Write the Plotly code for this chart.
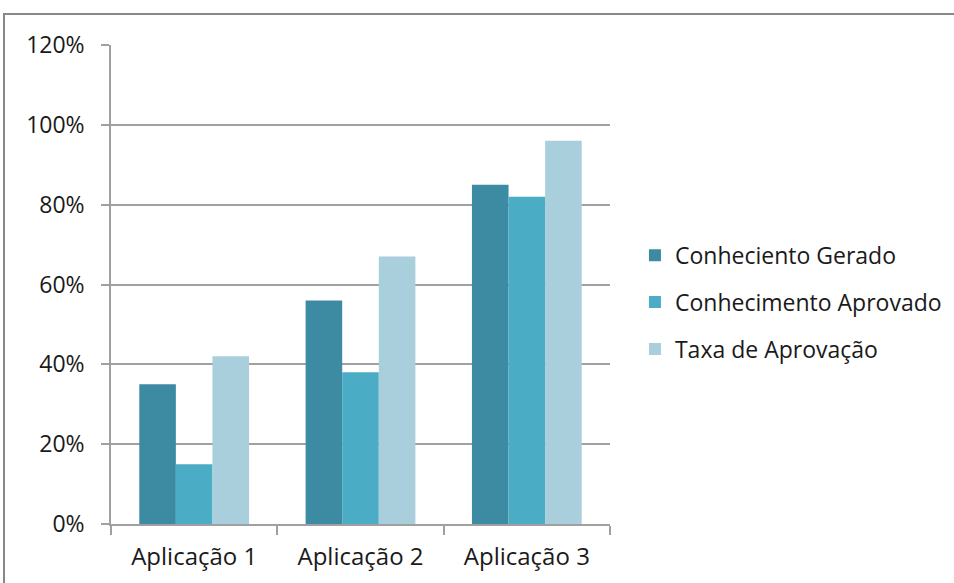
import plotly.graph_objects as go

categories = ["Aplicação 1", "Aplicação 2", "Aplicação 3"]
series_names = ["Conheciento Gerado", "Conhecimento Aprovado", "Taxa de Aprovação"]
conhecimento_gerado = [0.35, 0.56, 0.85]
conhecimento_aprovado = [0.15, 0.38, 0.82]
taxa_aprovacao = [0.42, 0.67, 0.96]
y_tick_values = [0, 0.2, 0.4, 0.6, 0.8, 1.0, 1.2]

colors = ["#3C8BA3", "#4BACC6", "#A9CEDC"]
series_values = [conhecimento_gerado, conhecimento_aprovado, taxa_aprovacao]

FONT = "Open Sans"
GRAY = "#A0A0A0"
TEXT = "#1a1a1a"

fig = go.Figure()
for i, (name, vals) in enumerate(zip(series_names, series_values)):
    fig.add_trace(go.Bar(
        x=categories, y=vals, name=name,
        marker=dict(color=colors[i], line=dict(width=0)),
        legendgroup=f"g{i}",
        hoverinfo="skip",
    ))

fig.update_layout(
    width=954, height=583,
    margin=dict(l=111, r=344, t=45, b=59, autoexpand=False),
    paper_bgcolor="white", plot_bgcolor="white",
    barmode="group", bargap=0.34, bargroupgap=0,
    font=dict(family=FONT, size=23, color=TEXT),
    showlegend=True,
    legend=dict(
        x=1.05, y=0.463, xanchor="left", yanchor="middle",
        font=dict(family=FONT, size=23, color=TEXT),
        tracegroupgap=14, itemwidth=30,
        bgcolor="rgba(0,0,0,0)",
    ),
    xaxis=dict(
        automargin=False,
        showline=True, linecolor=GRAY, linewidth=1.5,
        ticks="outside", tickson="boundaries", ticklen=9, tickcolor=GRAY, tickwidth=1.5,
        ticklabelstandoff=10,
        showgrid=False, zeroline=False,
        tickfont=dict(family=FONT, size=24, color=TEXT),
    ),
    yaxis=dict(
        automargin=False,
        range=[0, 1.2], tickvals=y_tick_values, tickformat=".0%",
        showline=True, linecolor=GRAY, linewidth=1.5,
        ticks="outside", ticklen=8, tickcolor=GRAY, tickwidth=1.5,
        ticklabelstandoff=12,
        showgrid=True, gridcolor=GRAY, gridwidth=1.5,
        zeroline=False,
        tickfont=dict(family=FONT, size=23, color=TEXT),
    ),
)

# outer chart frame (runs off the right and bottom edges)
fig.add_shape(type="rect", xref="paper", yref="paper",
              x0=-0.2144, x1=1.75, y0=-0.2, y1=1.0647,
              line=dict(color="#888888", width=2), fillcolor="rgba(0,0,0,0)", layer="below")

fig.write_html("out.html")
